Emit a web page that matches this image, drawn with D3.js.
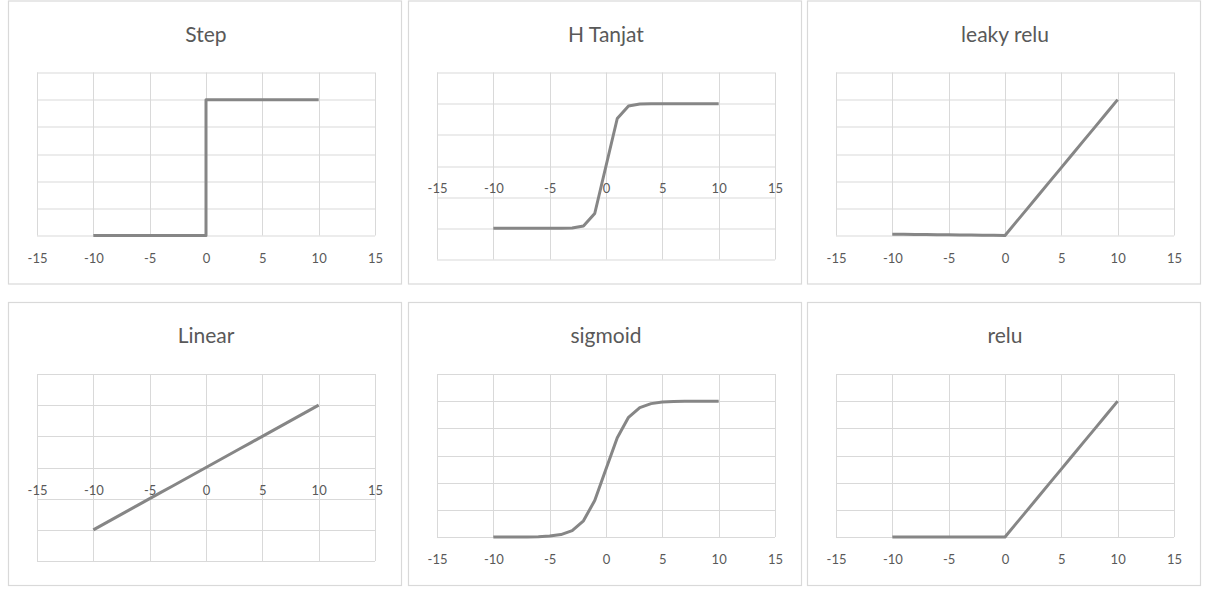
<!DOCTYPE html>
<html>
<head>
<meta charset="utf-8">
<script src="https://cdn.jsdelivr.net/npm/d3@7"></script>
<style>
  body { margin: 0; background: #fff; }
  text { font-family: Lato, "Open Sans", sans-serif; fill: #595959; }
</style>
</head>
<body>
<div id="chart"></div>
<script>
// Datos
const xInt = [-10, -9, -8, -7, -6, -5, -4, -3, -2, -1, 0, 1, 2, 3, 4, 5, 6, 7, 8, 9, 10];
const xTicks = [-15, -10, -5, 0, 5, 10, 15];

const stepX = [-10, -9, -8, -7, -6, -5, -4, -3, -2, -1, 0, 0, 1, 2, 3, 4, 5, 6, 7, 8, 9, 10];
const stepY = [0, 0, 0, 0, 0, 0, 0, 0, 0, 0, 0, 1, 1, 1, 1, 1, 1, 1, 1, 1, 1, 1];
const tanhY = [-1, -1, -1, -1, -1, -0.9999, -0.9993, -0.9951, -0.964, -0.7616, 0,
               0.7616, 0.964, 0.9951, 0.9993, 0.9999, 1, 1, 1, 1, 1];
const leakyY = [0.1, 0.09, 0.08, 0.07, 0.06, 0.05, 0.04, 0.03, 0.02, 0.01, 0,
                1, 2, 3, 4, 5, 6, 7, 8, 9, 10];
const linearY = [-10, -9, -8, -7, -6, -5, -4, -3, -2, -1, 0, 1, 2, 3, 4, 5, 6, 7, 8, 9, 10];
const sigmoidY = [0.00005, 0.00012, 0.00034, 0.00091, 0.0025, 0.0067, 0.018, 0.047, 0.119, 0.269, 0.5,
                  0.731, 0.881, 0.953, 0.982, 0.9933, 0.9975, 0.9991, 0.9997, 0.9999, 1];
const reluY = [0, 0, 0, 0, 0, 0, 0, 0, 0, 0, 0, 1, 2, 3, 4, 5, 6, 7, 8, 9, 10];

const titles = ["Step", "H Tanjat", "leaky relu", "Linear", "sigmoid", "relu"];
const seriesX = [stepX, xInt, xInt, xInt, xInt, xInt];
const seriesY = [stepY, tanhY, leakyY, linearY, sigmoidY, reluY];
const yDomains = [[0, 1.2], [-1.5, 1.5], [0, 12], [-15, 15], [0, 1.2], [0, 12]];
const yTicks = [
  [0, 0.2, 0.4, 0.6, 0.8, 1, 1.2],
  [-1.5, -1, -0.5, 0, 0.5, 1, 1.5],
  [0, 2, 4, 6, 8, 10, 12],
  [-15, -10, -5, 0, 5, 10, 15],
  [0, 0.2, 0.4, 0.6, 0.8, 1, 1.2],
  [0, 2, 4, 6, 8, 10, 12]
];

// Configuración
const panelLeft = [8, 408, 807];
const panelTop = [0.5, 302];
const panelW = 393, panelH = 283;
const plotLeft = 29, plotTop = 72, plotW = 338;
const gridColor = "#d9d9d9";
const lineColor = "#868686";

const svg = d3.select("#chart")
  .append("svg")
  .attr("width", 1205)
  .attr("height", 590);

titles.forEach((title, i) => {
  const col = i % 3, row = Math.floor(i / 3);
  const yMin = yDomains[i][0];
  // paneles con eje en el centro tienen el área de trazado más alta
  const plotH = yMin < 0 ? 187 : 163;

  const g = svg.append("g")
    .attr("transform", `translate(${panelLeft[col]}, ${panelTop[row]})`);

  g.append("rect")
    .attr("x", 0.5)
    .attr("y", 0.5)
    .attr("width", panelW)
    .attr("height", panelH)
    .attr("fill", "#fff")
    .attr("stroke", gridColor)
    .attr("stroke-width", 1.2);

  g.append("text")
    .attr("x", plotLeft + plotW / 2)
    .attr("y", 41)
    .attr("text-anchor", "middle")
    .attr("font-size", 21)
    .text(title);

  const x = d3.scaleLinear().domain([-15, 15]).range([plotLeft, plotLeft + plotW]);
  const y = d3.scaleLinear().domain(yDomains[i]).range([plotTop + plotH, plotTop]);

  // Rejilla
  g.append("g").selectAll("line")
    .data(yTicks[i])
    .enter().append("line")
    .attr("x1", plotLeft)
    .attr("x2", plotLeft + plotW)
    .attr("y1", d => Math.round(y(d)) + 0.5)
    .attr("y2", d => Math.round(y(d)) + 0.5)
    .attr("stroke", gridColor);

  g.append("g").selectAll("line")
    .data(xTicks)
    .enter().append("line")
    .attr("x1", d => Math.round(x(d)) + 0.5)
    .attr("x2", d => Math.round(x(d)) + 0.5)
    .attr("y1", plotTop)
    .attr("y2", plotTop + plotH)
    .attr("stroke", gridColor);

  // Eje X
  const axis = g.append("g")
    .attr("transform", `translate(0, ${y(Math.max(0, yMin))})`)
    .call(d3.axisBottom(x).tickValues(xTicks).tickFormat(d => String(d)).tickSize(0).tickPadding(18));
  axis.select(".domain").remove();
  axis.selectAll("text")
    .attr("font-size", 13)
    .style("font-family", "Lato, 'Open Sans', sans-serif")
    .attr("fill", "#595959");

  // Serie
  const pts = seriesX[i].map((xv, k) => [xv, seriesY[i][k]]);
  g.append("path")
    .datum(pts)
    .attr("fill", "none")
    .attr("stroke", lineColor)
    .attr("stroke-width", 3)
    .attr("stroke-linejoin", "round")
    .attr("d", d3.line().x(d => x(d[0])).y(d => y(d[1])));
});
</script>
</body>
</html>
